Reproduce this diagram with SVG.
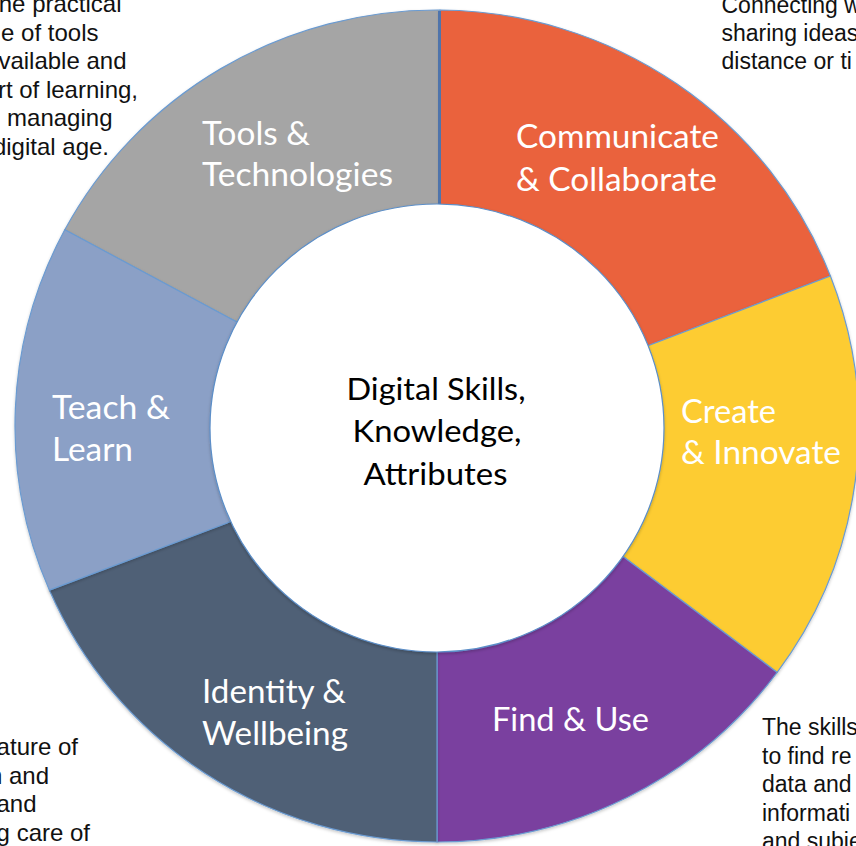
<svg xmlns="http://www.w3.org/2000/svg" width="856" height="846" viewBox="0 0 856 846">
<defs>
<filter id="sh" x="-10%" y="-10%" width="120%" height="120%">
<feDropShadow dx="0" dy="1.5" stdDeviation="1.5" flood-color="#000" flood-opacity="0.22"/>
</filter>
</defs>
<style>
.seg{stroke:#6b9bd1;stroke-width:1.2;stroke-linejoin:round;filter:url(#sh)}
.lbl{font-family:Lato,"Open Sans","Liberation Sans",sans-serif;font-size:32px;fill:#ffffff}
.ctr{font-family:Lato,"Open Sans","Liberation Sans",sans-serif;font-size:31px;fill:#000000;text-anchor:middle}
.side{font-family:"Liberation Sans",Arial,sans-serif;font-size:23px;fill:#111111}
.big{font-size:24px}
.end{text-anchor:end}
</style>
<rect width="856" height="846" fill="#ffffff"/>

<g id="side-texts">
<text class="side big end" x="121.5" y="12">he practical</text>
<text class="side big end" x="98.5" y="40.5">e of tools</text>
<text class="side big end" x="126.5" y="69">vailable and</text>
<text class="side big end" x="138" y="97.5">rt of learning,</text>
<text class="side big end" x="112.5" y="126">managing</text>
<text class="side big end" x="109" y="154.5">digital age.</text>

<text class="side" x="721.5" y="12.5">Connecting w</text>
<text class="side" x="721.5" y="40.5">sharing ideas</text>
<text class="side" x="721.5" y="68.5">distance or ti</text>

<text class="side big end" x="78" y="755">ature of</text>
<text class="side big end" x="49" y="783.5">n and</text>
<text class="side big end" x="36.5" y="812">and</text>
<text class="side big end" x="90" y="840.5">g care of</text>

<text class="side" x="762" y="735">The skills</text>
<text class="side" x="762" y="763.5">to find re</text>
<text class="side" x="762" y="792">data and</text>
<text class="side" x="762" y="820.5">informati</text>
<text class="side" x="762" y="849">and subje</text>
</g>

<g id="tools-technologies">
<path class="seg" fill="#a5a5a5" d="M233,320 L64.8,229.8 A422,416 0 0 1 440,10 L440,204 L437,427 Z"/>
</g>
<g id="communicate-collaborate">
<path class="seg" fill="#ea623c" d="M440,204 L440,10 A422,416 0 0 1 830.4,276 L650,345 L437,427 Z"/>
</g>
<g id="create-innovate">
<path class="seg" fill="#fdcc31" d="M650,345 L830.4,276 A422,416 0 0 1 777.2,672.4 L625,558 L437,427 Z"/>
</g>
<g id="find-use">
<path class="seg" fill="#7a3f9f" d="M625,558 L777.2,672.4 A422,416 0 0 1 437,842 L437,652 L437,427 Z"/>
</g>
<g id="identity-wellbeing">
<path class="seg" fill="#506076" d="M437,652 L437,842 A422,416 0 0 1 49.3,590.1 L227,523 L437,427 Z"/>
</g>
<g id="teach-learn">
<path class="seg" fill="#8ba0c6" d="M227,523 L49.3,590.1 A422,416 0 0 1 64.8,229.8 L233,320 L437,427 Z"/>
</g>
<line x1="439.5" y1="11" x2="439.5" y2="206" stroke="#4f74ab" stroke-width="3"/>

<g id="center">
<ellipse cx="437" cy="428" rx="227" ry="224" fill="#ffffff" stroke="#5b8ec8" stroke-width="1.2" filter="url(#sh)"/>
<text class="ctr" x="436" y="400" textLength="179" lengthAdjust="spacingAndGlyphs">Digital Skills,</text>
<text class="ctr" x="437" y="442" textLength="169" lengthAdjust="spacingAndGlyphs">Knowledge,</text>
<text class="ctr" x="435.5" y="485" textLength="144" lengthAdjust="spacingAndGlyphs">Attributes</text>
</g>

<g id="labels">
<text class="lbl" x="202" y="145" textLength="108" lengthAdjust="spacingAndGlyphs">Tools &amp;</text>
<text class="lbl" x="202" y="186" textLength="191" lengthAdjust="spacingAndGlyphs">Technologies</text>
<text class="lbl" x="516" y="148" textLength="203" lengthAdjust="spacingAndGlyphs">Communicate</text>
<text class="lbl" x="516" y="191" textLength="201" lengthAdjust="spacingAndGlyphs">&amp; Collaborate</text>
<text class="lbl" x="681" y="423" textLength="95" lengthAdjust="spacingAndGlyphs">Create</text>
<text class="lbl" x="681" y="464" textLength="160" lengthAdjust="spacingAndGlyphs">&amp; Innovate</text>
<text class="lbl" x="492" y="731" textLength="157" lengthAdjust="spacingAndGlyphs">Find &amp; Use</text>
<text class="lbl" x="202" y="703" textLength="144" lengthAdjust="spacingAndGlyphs">Identity &amp;</text>
<text class="lbl" x="202" y="745" textLength="146" lengthAdjust="spacingAndGlyphs">Wellbeing</text>
<text class="lbl" x="52" y="419" textLength="118" lengthAdjust="spacingAndGlyphs">Teach &amp;</text>
<text class="lbl" x="52" y="461" textLength="81" lengthAdjust="spacingAndGlyphs">Learn</text>
</g>
</svg>
